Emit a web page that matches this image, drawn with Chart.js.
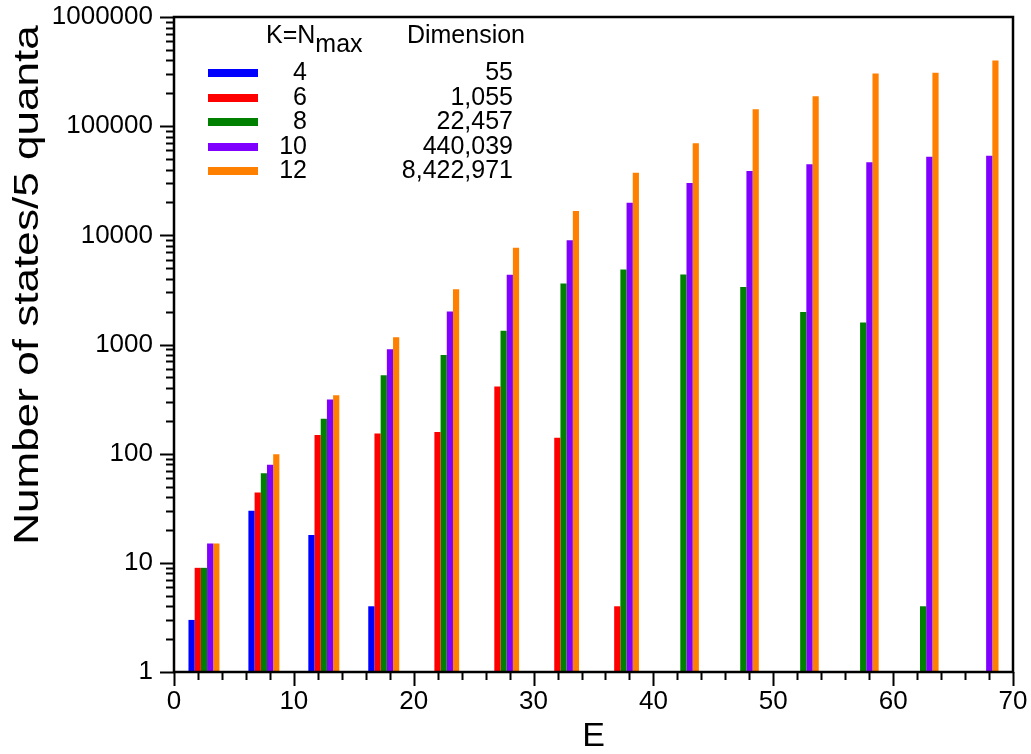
<!DOCTYPE html>
<html>
<head>
<meta charset="utf-8">
<script src="https://cdn.jsdelivr.net/npm/chart.js@4.4.1/dist/chart.umd.min.js"></script>
<style>
  html, body { margin: 0; padding: 0; background: #fff; }
  #wrap { width: 1031px; height: 754px; }
</style>
</head>
<body>
<div id="wrap"><canvas id="states"></canvas></div>
<script>
// E bins of 5 quanta each
var bins = ['0-5', '5-10', '10-15', '15-20', '20-25', '25-30', '30-35',
            '35-40', '40-45', '45-50', '50-55', '55-60', '60-65', '65-70'];

// number of states per bin for each K = Nmax (null = no bar)
var k4  = [3, 30, 18, 4, null, null, null, null, null, null, null, null, null, null];
var k6  = [9, 44, 148, 153, 158, 412, 140, 4, null, null, null, null, null, null];
var k8  = [9, 66, 209, 523, 803, 1333, 3630, 4875, 4385, 3355, 1990, 1592, 4, null];
var k10 = [15, 79, 313, 906, 2010, 4350, 9000, 19900, 30200, 38900, 44800, 46700, 52600, 53700];
var k12 = [15, 99, 343, 1167, 3214, 7690, 16700, 37500, 69800, 143000, 188000, 304000, 308000, 400000];

// legend table
var kValues = ['4', '6', '8', '10', '12'];
var dimensions = ['55', '1,055', '22,457', '440,039', '8,422,971'];
var colors = ['#0000ff', '#ff0000', '#008000', '#8000ff', '#ff8000'];

var series = [k4, k6, k8, k10, k12];
var FONT = '"Liberation Sans", Arial, Helvetica, sans-serif';

function isDecade(v) {
  var l = Math.log10(v);
  return Math.abs(l - Math.round(l)) < 1e-9;
}

// frame, outward tick marks, y title and the legend table
var decorations = {
  id: 'decorations',
  afterDraw: function (chart) {
    var ctx = chart.ctx;
    var a = chart.chartArea;
    var ys = chart.scales.y;
    var xs = chart.scales.x2;
    ctx.save();
    ctx.strokeStyle = '#000';
    ctx.lineWidth = 2.5;
    ctx.strokeRect(a.left, a.top, a.right - a.left, a.bottom - a.top);

    ctx.lineWidth = 2;
    ctx.beginPath();
    var e0 = Math.round(Math.log10(ys.min)), e1 = Math.round(Math.log10(ys.max));
    for (var e = e0; e <= e1; e++) {
      for (var m = 1; m <= 9; m++) {
        var v = m * Math.pow(10, e);
        if (v > ys.max) break;
        var py = Math.round(ys.getPixelForValue(v)) + 0.5;
        var len = m === 1 ? 14 : 8;
        ctx.moveTo(a.left, py);
        ctx.lineTo(a.left - len, py);
      }
    }
    for (var x = xs.min; x <= xs.max; x += 2) {
      var px = Math.round(xs.getPixelForValue(x)) + 0.5;
      var l2 = x % 10 === 0 ? 14 : 8;
      ctx.moveTo(px, a.bottom);
      ctx.lineTo(px, a.bottom + l2);
    }
    ctx.stroke();

    // y title
    ctx.save();
    ctx.translate(28, 285);
    ctx.rotate(-Math.PI / 2);
    ctx.scale(1.26, 1);
    ctx.fillStyle = '#000';
    ctx.font = '35px ' + FONT;
    ctx.textAlign = 'center';
    ctx.textBaseline = 'middle';
    ctx.fillText('Number of states/5 quanta', 0, 0);
    ctx.restore();

    // legend table
    ctx.fillStyle = '#000';
    ctx.font = '25px ' + FONT;
    ctx.textAlign = 'left';
    ctx.textBaseline = 'alphabetic';
    ctx.fillText('K=N', 266, 43);
    var w = ctx.measureText('K=N').width;
    ctx.fillText('max', 266 + w, 52);
    ctx.textAlign = 'right';
    ctx.fillText('Dimension', 525, 43);

    var rows = [73, 98, 122, 147, 171];
    ctx.lineWidth = 8;
    ctx.textBaseline = 'middle';
    for (var i = 0; i < kValues.length; i++) {
      ctx.strokeStyle = colors[i];
      ctx.beginPath();
      ctx.moveTo(208, rows[i]);
      ctx.lineTo(258, rows[i]);
      ctx.stroke();
      ctx.fillText(kValues[i], 307, rows[i]);
      ctx.fillText(dimensions[i], 513, rows[i]);
    }
    ctx.restore();
  }
};

var datasets = series.map(function (d, i) {
  return {
    label: 'K=' + kValues[i],
    data: d,
    backgroundColor: colors[i],
    borderWidth: 0,
    xAxisID: 'x',
    yAxisID: 'y'
  };
});

new Chart(document.getElementById('states'), {
  type: 'bar',
  data: { labels: bins, datasets: datasets },
  plugins: [decorations],
  options: {
    responsive: true,
    maintainAspectRatio: false,
    animation: false,
    categoryPercentage: 0.517,
    barPercentage: 1.0,
    layout: { padding: { top: 17, right: 18, left: 0, bottom: 0 } },
    plugins: {
      legend: { display: false },
      tooltip: { enabled: false }
    },
    scales: {
      x: {
        type: 'category',
        display: false
      },
      x2: {
        type: 'linear',
        position: 'bottom',
        offset: false,
        min: 0,
        max: 70,
        grid: { display: false, drawTicks: false, offset: false },
        border: { display: false },
        ticks: {
          stepSize: 10,
          padding: 14,
          color: '#000',
          font: { family: FONT, size: 26 }
        },
        title: {
          display: true,
          text: 'E',
          color: '#000',
          padding: 0,
          font: { family: FONT, size: 34, lineHeight: 1 }
        },
        afterFit: function (s) {
          s.height = 82;
          s.paddingLeft = 0;
          s.paddingRight = 0;
        }
      },
      y: {
        type: 'logarithmic',
        min: 1,
        max: 1000000,
        grid: { display: false, drawTicks: false },
        border: { display: false },
        ticks: {
          autoSkip: false,
          padding: 21,
          color: '#000',
          font: { family: FONT, size: 26 },
          callback: function (v) { return isDecade(v) ? String(v) : ''; }
        },
        afterFit: function (s) {
          s.width = 174;
          s.paddingTop = 0;
          s.paddingBottom = 0;
        }
      }
    }
  }
});
</script>
</body>
</html>
